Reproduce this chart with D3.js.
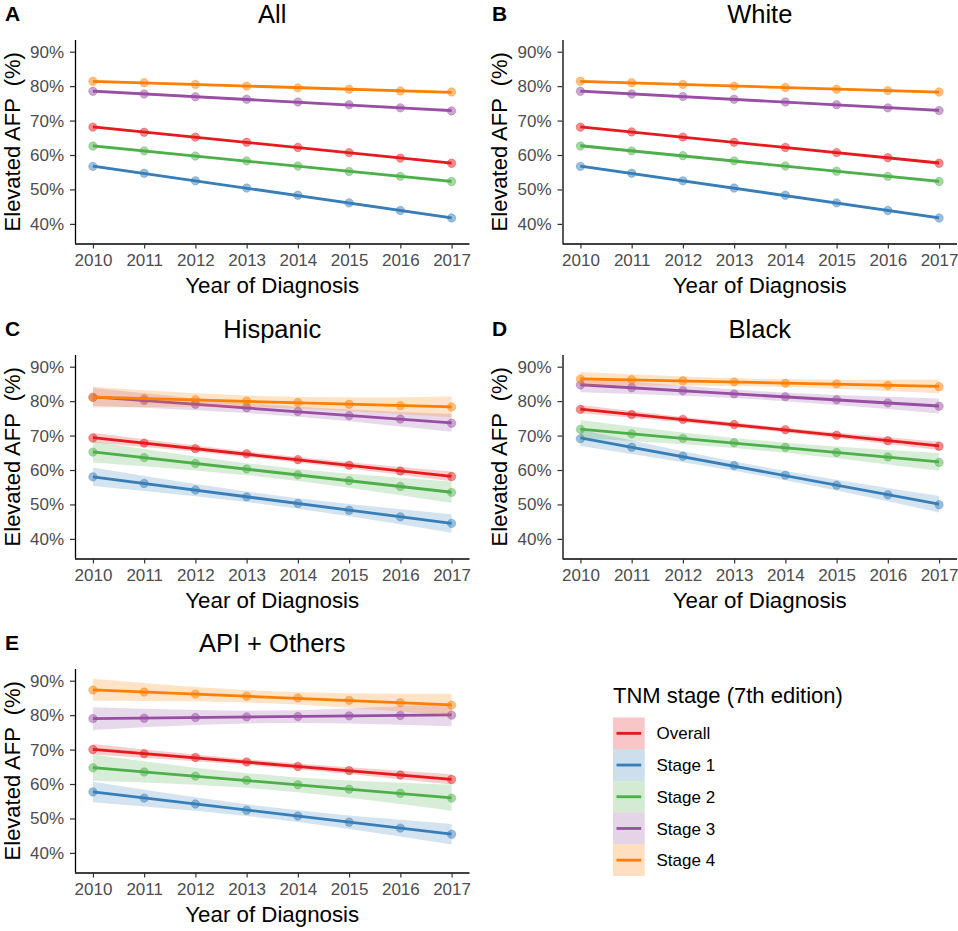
<!DOCTYPE html>
<html>
<head>
<meta charset="utf-8">
<script src="https://cdn.jsdelivr.net/npm/d3@7"></script>
<style>
  body { margin: 0; background: #fff; }
  svg { font-family: "Liberation Sans", Arial, sans-serif; }
  .tick text { fill: #4d4d4d; font-size: 17px; }
  .tick line { stroke: #333; stroke-width: 1.2px; }
  .domain { stroke: #000; stroke-width: 1.3px; }
  .ytitle { white-space: pre; }
</style>
</head>
<body>
<script>
//// DATA
var years = [2010, 2011, 2012, 2013, 2014, 2015, 2016, 2017];
var stages = ["Overall", "Stage 1", "Stage 2", "Stage 3", "Stage 4"];
var colors = ["#E41A1C", "#377EB8", "#4DAF4A", "#984EA3", "#FF7F00"];
var yTicks = [40, 50, 60, 70, 80, 90];

// Elevated AFP (%) by year, one row per stage (Overall, Stage 1..4)
var allValues = [
  [68.1, 66.6, 65.2, 63.7, 62.2, 60.7, 59.1, 57.6],
  [56.7, 54.7, 52.5, 50.4, 48.3, 46.1, 43.9, 41.7],
  [62.6, 61.2, 59.7, 58.3, 56.8, 55.2, 53.8, 52.3],
  [78.5, 77.7, 76.9, 76.2, 75.4, 74.6, 73.7, 72.8],
  [81.4, 81.0, 80.5, 80.0, 79.5, 79.1, 78.6, 78.3]
];
var whiteValues = [
  [68.1, 66.7, 65.2, 63.7, 62.2, 60.7, 59.2, 57.6],
  [56.7, 54.7, 52.5, 50.4, 48.3, 46.1, 43.9, 41.7],
  [62.6, 61.2, 59.8, 58.3, 56.8, 55.3, 53.8, 52.3],
  [78.5, 77.7, 77.0, 76.2, 75.4, 74.6, 73.7, 72.9],
  [81.4, 81.0, 80.5, 80.0, 79.6, 79.1, 78.7, 78.3]
];
var hispanicValues = [
  [69.3, 67.8, 66.2, 64.7, 63.0, 61.4, 59.7, 58.1],
  [58.0, 56.1, 54.2, 52.2, 50.3, 48.3, 46.4, 44.5],
  [65.2, 63.6, 61.9, 60.3, 58.6, 56.9, 55.2, 53.5],
  [81.1, 80.2, 79.1, 78.1, 77.0, 75.8, 74.8, 73.6],
  [81.1, 80.7, 80.4, 80.0, 79.6, 79.1, 78.7, 78.3]
];
var blackValues = [
  [77.6, 76.1, 74.7, 73.2, 71.7, 70.1, 68.5, 66.9],
  [69.1, 66.6, 64.0, 61.3, 58.5, 55.6, 52.8, 49.9],
  [71.8, 70.5, 69.2, 67.9, 66.6, 65.1, 63.8, 62.2],
  [84.7, 83.9, 83.0, 82.1, 81.3, 80.4, 79.5, 78.5],
  [86.4, 86.2, 85.9, 85.6, 85.2, 85.0, 84.6, 84.2]
];
var apiValues = [
  [70.0, 68.8, 67.7, 66.4, 65.1, 63.9, 62.6, 61.3],
  [57.7, 55.9, 54.2, 52.4, 50.7, 48.9, 47.2, 45.4],
  [64.7, 63.5, 62.3, 61.1, 59.8, 58.5, 57.3, 55.9],
  [79.0, 79.1, 79.3, 79.5, 79.6, 79.8, 79.9, 80.0],
  [87.3, 86.7, 86.1, 85.5, 85.0, 84.3, 83.6, 82.9]
];

// Confidence band half-width (percentage points) at the ends of the range
var allBand = [0.35, 0.4, 0.5, 0.5, 0.4];
var whiteBand = [0.35, 0.4, 0.5, 0.5, 0.4];
var hispanicBand = [1.4, 2.7, 3.1, 2.6, 3.0];
var blackBand = [1.2, 2.4, 2.6, 2.2, 2.0];
var apiBand = [1.5, 3.0, 3.8, 3.3, 3.2];

var panelLetters = ["A", "B", "C", "D", "E"];
var panelTitles = ["All", "White", "Hispanic", "Black", "API + Others"];
var panelValues = [allValues, whiteValues, hispanicValues, blackValues, apiValues];
var panelBands = [allBand, whiteBand, hispanicBand, blackBand, apiBand];

//// LAYOUT
var W = 958, H = 931;
var plotW = 394.5, plotH = 203.5;
var panelPos = [
  {x: 75, y: 40}, {x: 562.5, y: 40},
  {x: 75, y: 355}, {x: 562.5, y: 355},
  {x: 75, y: 669}
];

var svg = d3.select("body").append("svg")
    .attr("width", W)
    .attr("height", H);

var xScale = d3.scaleLinear().domain([2009.65, 2017.35]).range([0, plotW]);
var yScale = d3.scaleLinear().domain([34.3, 93.4]).range([plotH, 0]);

// least-squares fit, like geom_smooth(method = "lm")
function fit(vals) {
  var xm = d3.mean(years), ym = d3.mean(vals);
  var sxx = d3.sum(years, function(x) { return (x - xm) * (x - xm); });
  var sxy = d3.sum(years, function(x, i) { return (x - xm) * (vals[i] - ym); });
  var b = sxy / sxx;
  return {xm: xm, sxx: sxx, f: function(x) { return ym + b * (x - xm); }};
}

panelTitles.forEach(function(title, p) {
  var pos = panelPos[p];
  var g = svg.append("g")
      .attr("transform", "translate(" + pos.x + "," + pos.y + ")");

  // Points
  panelValues[p].forEach(function(vals, s) {
    g.selectAll(".pt" + s)
        .data(vals)
      .enter().append("circle")
        .attr("cx", function(d, i) { return xScale(years[i]); })
        .attr("cy", function(d) { return yScale(d); })
        .attr("r", 4.2)
        .attr("fill", colors[s])
        .attr("fill-opacity", 0.5)
        .attr("stroke", colors[s])
        .attr("stroke-opacity", 0.45)
        .attr("stroke-width", 0.8);
  });

  // Ribbons + fitted lines
  panelValues[p].forEach(function(vals, s) {
    var m = fit(vals);
    var n = years.length;
    var endW = Math.sqrt(1 / n + Math.pow(years[0] - m.xm, 2) / m.sxx);
    var half = function(x) {
      return panelBands[p][s] * Math.sqrt(1 / n + Math.pow(x - m.xm, 2) / m.sxx) / endW;
    };
    var area = d3.area()
        .x(function(x) { return xScale(x); })
        .y0(function(x) { return yScale(m.f(x) - half(x)); })
        .y1(function(x) { return yScale(m.f(x) + half(x)); });
    g.append("path")
        .attr("d", area(years))
        .attr("fill", colors[s])
        .attr("fill-opacity", 0.22);

    var line = d3.line()
        .x(function(x) { return xScale(x); })
        .y(function(x) { return yScale(m.f(x)); });
    g.append("path")
        .attr("d", line([years[0], years[n - 1]]))
        .attr("fill", "none")
        .attr("stroke", colors[s])
        .attr("stroke-width", 2.8);
  });

  // Axes
  g.append("g")
      .attr("transform", "translate(0," + plotH + ")")
      .call(d3.axisBottom(xScale).tickValues(years).tickFormat(d3.format("d"))
        .tickSize(5).tickSizeOuter(0).tickPadding(5))
      .call(function(a) { a.selectAll(".tick text").attr("dy", "0.71em"); });

  g.append("g")
      .call(d3.axisLeft(yScale).tickValues(yTicks).tickFormat(function(d) { return d + "%"; })
        .tickSize(5).tickSizeOuter(0).tickPadding(6));

  g.selectAll(".domain").attr("d", function() {
    return d3.select(this.parentNode).attr("transform")
      ? "M0,0.5H" + plotW
      : "M0.5," + plotH + "V0";
  });

  // Titles
  g.append("text")
      .attr("x", plotW / 2)
      .attr("y", -17)
      .attr("text-anchor", "middle")
      .attr("font-size", 25.5)
      .text(title);

  g.append("text")
      .attr("x", (p % 2 == 0 ? 5 : 492) - pos.x)
      .attr("y", -19)
      .attr("font-size", 21)
      .attr("font-weight", "bold")
      .text(panelLetters[p]);

  g.append("text")
      .attr("x", plotW / 2)
      .attr("y", plotH + 49)
      .attr("text-anchor", "middle")
      .attr("font-size", 22.3)
      .text("Year of Diagnosis");

  g.append("text")
      .attr("class", "ytitle")
      .attr("transform", "translate(-55.5," + (plotH / 2) + ") rotate(-90)")
      .attr("text-anchor", "middle")
      .attr("font-size", 22)
      .text("Elevated AFP  (%)");
});

//// LEGEND
var legend = svg.append("g").attr("transform", "translate(613,0)");
legend.append("text")
    .attr("x", 0)
    .attr("y", 703)
    .attr("font-size", 22)
    .text("TNM stage (7th edition)");

var keySize = 31.7, keyTop = 717.5;
var keys = legend.selectAll(".key")
    .data(stages)
  .enter().append("g")
    .attr("class", "key")
    .attr("transform", function(d, i) { return "translate(0," + (keyTop + i * keySize) + ")"; });

keys.append("rect")
    .attr("width", keySize)
    .attr("height", keySize)
    .attr("fill", function(d, i) { return colors[i]; })
    .attr("fill-opacity", 0.25);
keys.append("line")
    .attr("x1", 3.5).attr("x2", keySize - 3.5)
    .attr("y1", keySize / 2).attr("y2", keySize / 2)
    .attr("stroke", function(d, i) { return colors[i]; })
    .attr("stroke-width", 2.8);
keys.append("text")
    .attr("x", 43.5)
    .attr("y", keySize / 2)
    .attr("dy", "0.36em")
    .attr("font-size", 17)
    .text(function(d) { return d; });
</script>
</body>
</html>
